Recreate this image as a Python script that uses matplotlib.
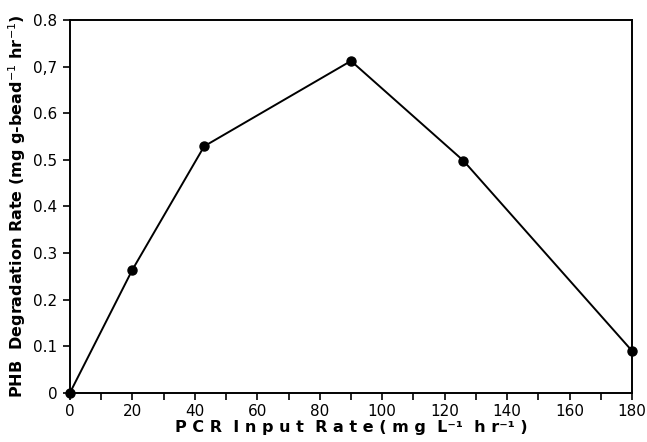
import matplotlib
matplotlib.use("Agg")
import matplotlib.pyplot as plt
from matplotlib.ticker import MultipleLocator

pcr_input = [0, 20, 43, 90, 126, 180]
phb_rate = [0.0, 0.264, 0.529, 0.712, 0.498, 0.09]
x_ticks = [0, 20, 40, 60, 80, 100, 120, 140, 160, 180]
y_ticks = [0, 0.1, 0.2, 0.3, 0.4, 0.5, 0.6, 0.7, 0.8]
y_labels = ["0", "0.1", "0.2", "0.3", "0.4", "0.5", "0.6", "0,7", "0.8"]

plt.rcParams['font.family'] = ['DejaVu Sans']
fig = plt.figure(figsize=(6.47, 4.42), dpi=100)
ax = fig.add_axes([0.108, 0.111, 0.869, 0.844])
ax.plot(pcr_input, phb_rate, color='black', lw=1.4, marker='o', ms=6.5, clip_on=False, zorder=3)
ax.set_xlim(0, 180)
ax.set_ylim(0, 0.8)
ax.set_xticks(x_ticks)
ax.set_xticklabels([str(v) for v in x_ticks], fontsize=11)
ax.xaxis.set_minor_locator(MultipleLocator(10))
ax.set_yticks(y_ticks)
ax.set_yticklabels(y_labels, fontsize=11)
ax.tick_params(axis='x', which='both', direction='out', length=5, width=1.2, pad=3)
ax.tick_params(axis='y', direction='out', length=5, width=1.2, pad=4)
for s in ax.spines.values():
    s.set_linewidth(1.4)
ax.set_xlabel("P C R  I n p u t  R a t e ( m g  L⁻¹  h r⁻¹ )", fontsize=11.5, fontweight='bold', labelpad=1)
ax.set_ylabel(r"PHB  Degradation Rate (mg g-bead$^{-1}$ hr$^{-1}$)", fontsize=11.5, fontweight='bold', labelpad=4)
fig.savefig("out.png", dpi=100)
